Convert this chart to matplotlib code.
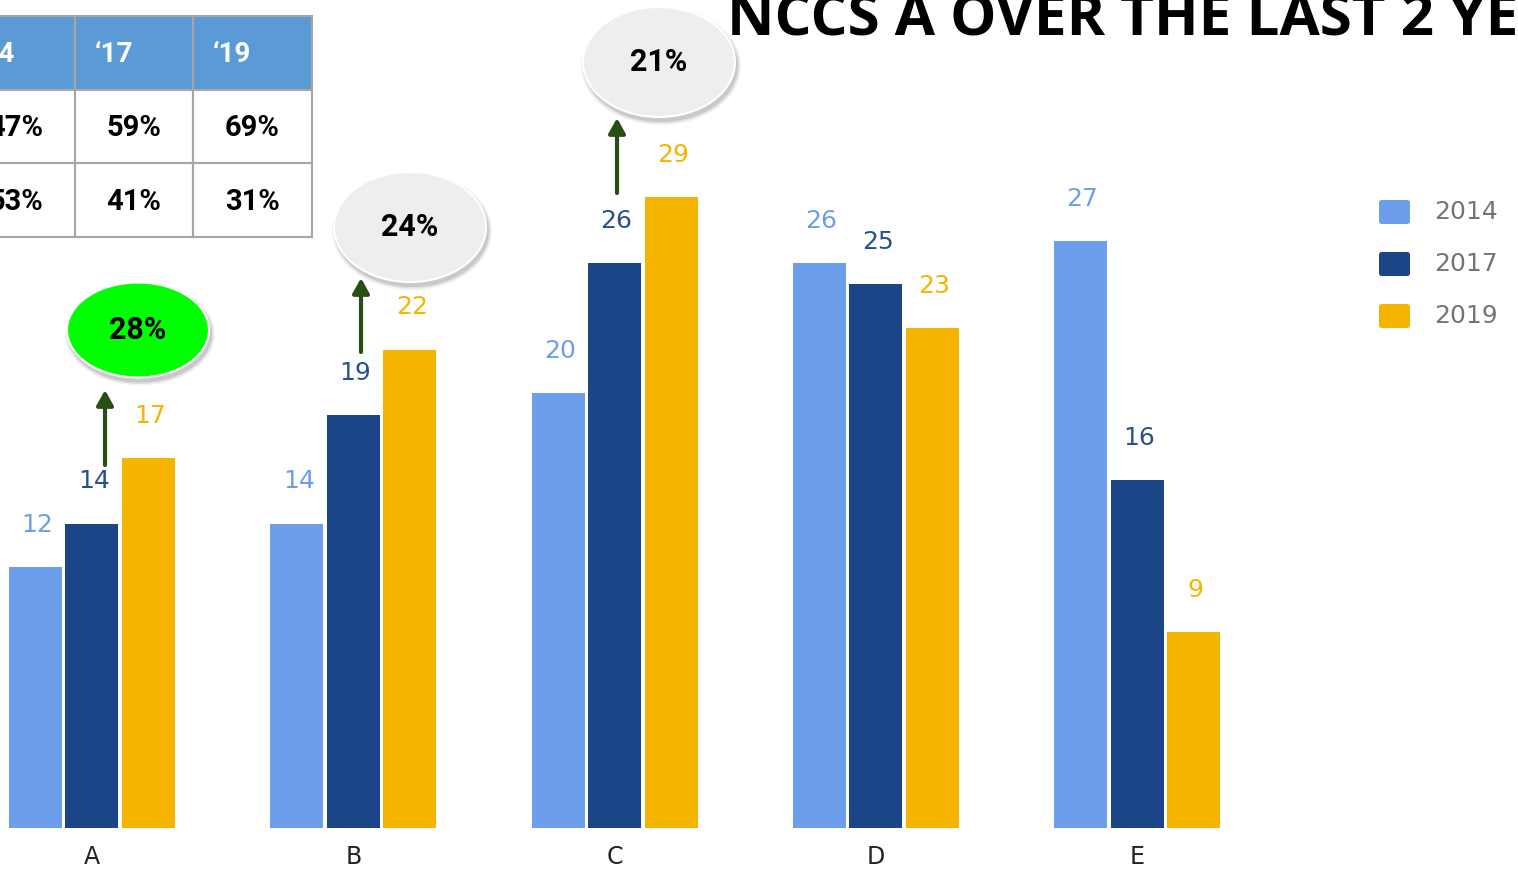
import matplotlib
matplotlib.use("Agg")
import matplotlib.pyplot as plt
from matplotlib.patches import Ellipse, Rectangle, FancyBboxPatch, FancyArrowPatch
import numpy as np

categories = ["A", "B", "C", "D", "E"]
series_names = ["2014", "2017", "2019"]
v2014 = [12, 14, 20, 26, 27]
v2017 = [14, 19, 26, 25, 16]
v2019 = [17, 22, 29, 23, 9]
colors = ["#6d9eeb", "#1c4587", "#f4b400"]
label_colors = ["#6d9eeb", "#2a4f8f", "#f4b400"]

table_header = ["\u201814", "\u201817", "\u201819"]
table_rows = [["47%", "59%", "69%"], ["53%", "41%", "31%"]]

bubble_texts = ["28%", "24%", "21%"]
bubble_colors = ["#00ff00", "#eeeeee", "#eeeeee"]

title = "NCCS A OVER THE LAST 2 YEARS"

W, H = 1518, 877
fig = plt.figure(figsize=(W / 100, H / 100), dpi=100)
ax = fig.add_axes([0, 0, 1, 1])
ax.set_axis_off()

gx0, gsp = 92.0, 261.25
ppu = 21.75
base_px = 828
ax.set_xlim(-gx0 / gsp, (W - gx0) / gsp)
ax.set_ylim(-(H - base_px) / ppu, base_px / ppu)

def px2x(px):
    return (px - gx0) / gsp

def py2y(py):
    return (base_px - py) / ppu

x = np.arange(len(categories))
bw = 53 / gsp
off = 56.5 / gsp
series = [v2014, v2017, v2019]
for i, vals in enumerate(series):
    xs = x + (i - 1) * off
    ax.bar(xs, vals, width=bw, color=colors[i], zorder=2)
    for xi, v in zip(xs, vals):
        ax.text(xi + 2 / gsp, v + 42 / ppu, str(v), ha="center", va="center",
                fontsize=18, color=label_colors[i], family="DejaVu Sans", zorder=3)

for xi, c in zip(x, categories):
    ax.text(xi, py2y(857), c, ha="center", va="center", fontsize=17,
            color="#222222", family="DejaVu Sans")

for i, name in enumerate(series_names):
    cy = 212 + 52 * i
    ax.add_patch(FancyBboxPatch((px2x(1379), py2y(cy + 12)), 31 / gsp, 24 / ppu,
                                boxstyle="round,pad=0,rounding_size=0.01",
                                mutation_aspect=gsp / ppu,
                                fc=colors[i], ec="none", zorder=3))
    ax.text(px2x(1434), py2y(cy), name, ha="left", va="center", fontsize=18,
            color="#757575", family="DejaVu Sans")

bubble_centers = [(138, 330), (410, 227), (659, 62)]
bubble_sizes = [(142, 95), (152, 110), (152, 110)]
arrow_x = [105, 361, 617]
arrow_y = [(465, 390), (352, 278), (193, 118)]
for k in range(3):
    cx, cy = bubble_centers[k]
    w, h = bubble_sizes[k]
    for s, a in [(8, 0.05), (5, 0.07), (2, 0.1)]:
        ax.add_patch(Ellipse((px2x(cx + 2), py2y(cy + 4)), (w + s) / gsp, (h + s) / ppu,
                             fc="#000000", ec="none", alpha=a, zorder=4))
    ax.add_patch(Ellipse((px2x(cx), py2y(cy)), w / gsp, h / ppu,
                         fc=bubble_colors[k], ec="white", lw=1.5, zorder=5))
    ax.text(px2x(cx), py2y(cy), bubble_texts[k], ha="center", va="center",
            fontsize=22, fontweight="bold", color="black", family="Roboto", zorder=6)
    y0, y1 = arrow_y[k]
    arr = FancyArrowPatch((px2x(arrow_x[k]), py2y(y0)), (px2x(arrow_x[k]), py2y(y1)),
                          arrowstyle="-|>,head_length=9,head_width=5",
                          color="#274e13", lw=3, shrinkA=0, shrinkB=0, zorder=4)
    ax.add_patch(arr)

col_edges = [-43, 75, 193, 312]
row_edges = [16, 90, 163, 237]
for j in range(3):
    x0, x1 = col_edges[j], col_edges[j + 1]
    ax.add_patch(Rectangle((px2x(x0), py2y(row_edges[1])), (x1 - x0) / gsp,
                           (row_edges[1] - row_edges[0]) / ppu,
                           fc="#5b9bd5", ec="#a6a6a6", lw=1.5, zorder=5))
    ax.text(px2x(x0 + 20), py2y((row_edges[0] + row_edges[1]) / 2 + 2), table_header[j],
            ha="left", va="center", fontsize=20, fontweight="bold", color="white",
            family="Roboto", zorder=6)
    for r in range(2):
        ya, yb = row_edges[r + 1], row_edges[r + 2]
        ax.add_patch(Rectangle((px2x(x0), py2y(yb)), (x1 - x0) / gsp, (yb - ya) / ppu,
                               fc="white", ec="#a6a6a6", lw=1.5, zorder=5))
        ax.text(px2x((x0 + x1) / 2), py2y((ya + yb) / 2 + 2), table_rows[r][j],
                ha="center", va="center", fontsize=21, fontweight="bold",
                color="black", family="Roboto", zorder=6)

ax.text(px2x(727), py2y(35), title, ha="left", va="baseline", fontsize=42,
        fontweight="bold", color="black", family="Open Sans", zorder=6)

fig.savefig("out.png", dpi=100)
